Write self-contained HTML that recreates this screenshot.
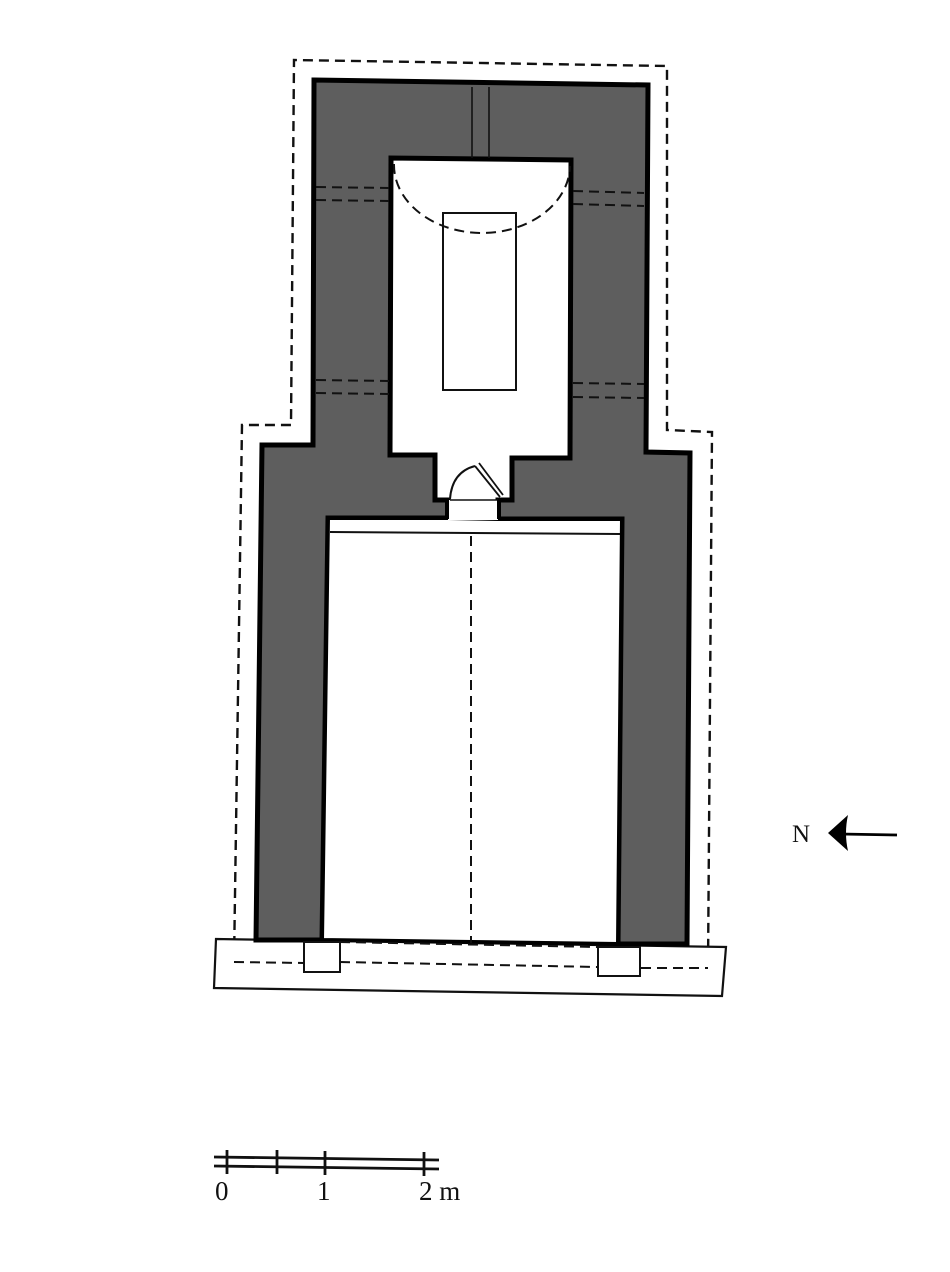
<!DOCTYPE html>
<html><head><meta charset="utf-8"><style>
html,body{margin:0;padding:0;background:#fff;}
svg{display:block;}
text{font-family:"Liberation Serif",serif;fill:#111;}
</style></head><body>
<svg width="950" height="1272" viewBox="0 0 950 1272" xmlns="http://www.w3.org/2000/svg">
<path d="M234,962 L242,425 L291,425 L294,60 L667,66 L667,430 L712,432 L708,968" fill="none" stroke="#111" stroke-width="2.4" stroke-dasharray="10,6"/>
<path d="M216,939 L726,947 L722,996 L214,988 Z" fill="#fff" stroke="#111" stroke-width="2.2"/>
<path fill-rule="evenodd" fill="#5e5e5e" stroke="#000" stroke-width="5" stroke-linejoin="miter"
 d="M314,80 L648,85 L646,452 L690,453 L687,944 L618,944 L622,519 L498,519 L498,500 L512,500 L512,458 L570,458 L571,160 L391,158 L390,455 L435,455 L435,500 L448,500 L448,518 L328,518 L322,940 L256,940 L262,445 L313,445 Z"/>
<path d="M328,518 L448,518 L498,519 L622,519 L618,944 L322,940 Z" fill="#fff" stroke="#000" stroke-width="4"/>
<line x1="330" y1="532" x2="620" y2="534" stroke="#111" stroke-width="2"/>
<rect x="448" y="500" width="50" height="20" fill="#fff"/>
<line x1="450" y1="500" x2="498" y2="500" stroke="#111" stroke-width="1.5"/>
<line x1="447" y1="500" x2="447" y2="519" stroke="#000" stroke-width="4"/>
<line x1="499" y1="500" x2="499" y2="519" stroke="#000" stroke-width="4"/>
<path d="M450,499 Q452,472 475,466" fill="none" stroke="#111" stroke-width="2"/>
<path d="M475,466 L500,497 M479,463 L503,495" fill="none" stroke="#111" stroke-width="1.8"/>
<g stroke="#111" stroke-width="1.6" fill="none">
<line x1="472" y1="87" x2="472" y2="158"/><line x1="489" y1="87" x2="489" y2="158"/>
</g>
<rect x="443" y="213" width="73" height="177" fill="#fff" stroke="#111" stroke-width="2"/>
<g stroke="#111" stroke-width="2" fill="none" stroke-dasharray="10,6">
<line x1="316" y1="187" x2="389" y2="188"/><line x1="316" y1="200" x2="389" y2="201"/>
<line x1="573" y1="191" x2="644" y2="193"/><line x1="573" y1="204" x2="644" y2="206"/>
<line x1="316" y1="380" x2="389" y2="381"/><line x1="316" y1="393" x2="389" y2="394"/>
<line x1="573" y1="383" x2="644" y2="384"/><line x1="573" y1="397" x2="644" y2="398"/>
<path d="M394,164 A88,68 0 0 0 570,166"/>
<line x1="471" y1="536" x2="471" y2="943"/>
<path d="M340,942 L598,947"/>
<path d="M234,962 L304,963 M340,962 L598,967 M641,968 L708,968"/>
</g>
<rect x="304" y="942" width="36" height="30" fill="#fff" stroke="#111" stroke-width="2"/>
<rect x="598" y="947" width="42" height="29" fill="#fff" stroke="#111" stroke-width="2"/>
<g stroke="#111" stroke-width="2.8">
<line x1="214" y1="1157" x2="439" y2="1160"/>
<line x1="214" y1="1166" x2="439" y2="1169"/>
<line x1="227" y1="1150" x2="227" y2="1174"/>
<line x1="277" y1="1150" x2="277" y2="1174"/>
<line x1="325" y1="1151" x2="325" y2="1175"/>
<line x1="424" y1="1152" x2="424" y2="1176"/>
</g>
<text x="215" y="1200" font-size="27">0</text>
<text x="317" y="1200" font-size="27">1</text>
<text x="419" y="1200" font-size="27">2 m</text>
<text x="792" y="842" font-size="25">N</text>
<path d="M828,833 L848,815 Q844,833 848,851 Z" fill="#000"/>
<line x1="840" y1="834" x2="897" y2="835" stroke="#000" stroke-width="2.8"/>
</svg>
</body></html>
